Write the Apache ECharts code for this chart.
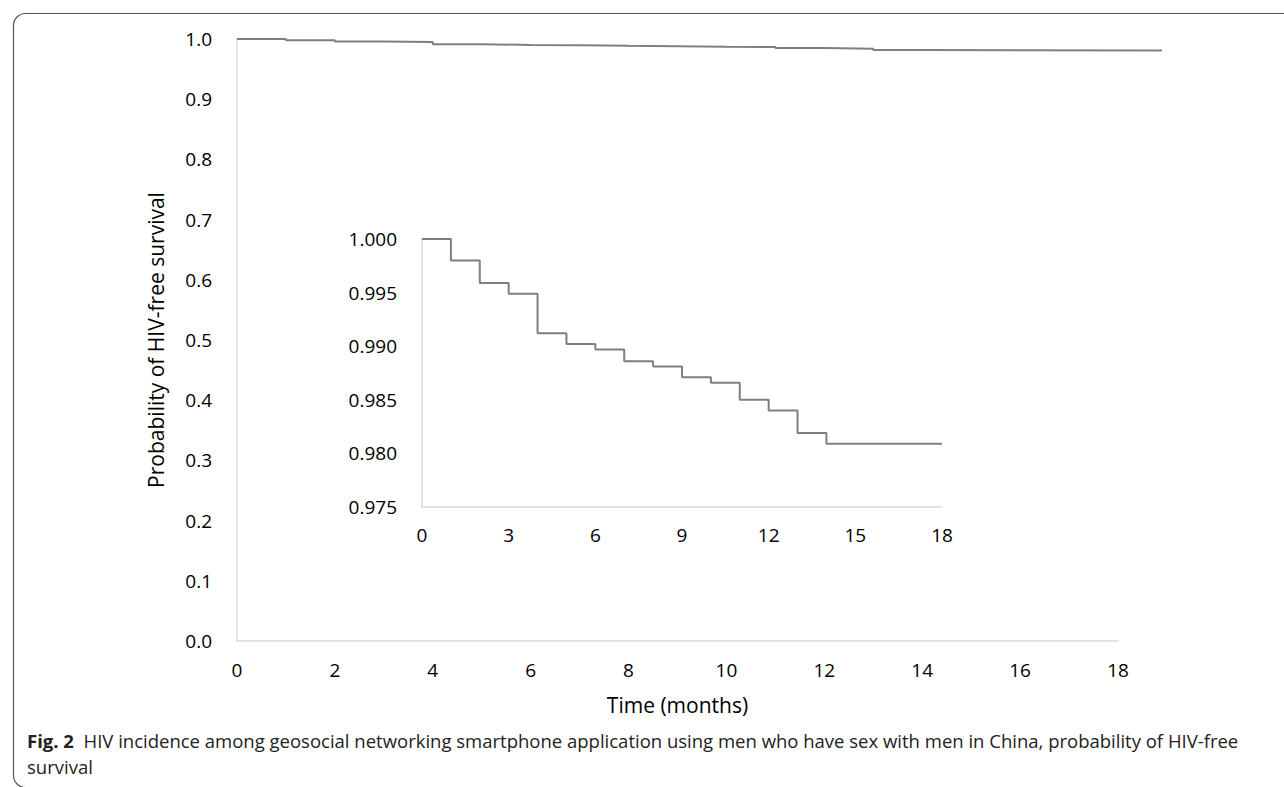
<!DOCTYPE html>
<html>
<head>
<meta charset="utf-8">
<script src="https://cdn.jsdelivr.net/npm/echarts@6/dist/echarts.min.js"></script>
<style>
  html, body { margin: 0; padding: 0; background: #fff; }
  #chart { width: 1284px; height: 787px; }
</style>
</head>
<body>
<div id="chart"></div>
<script>
(function() {
  // Kaplan-Meier steps (month of event, survival after it)
  var months = [0, 1, 2, 3, 4, 5, 6, 7, 8, 9, 10, 11, 12, 13, 14, 18];
  var survival = [1.000, 0.998, 0.9959, 0.9949, 0.9912, 0.9902, 0.9897, 0.9886, 0.9881, 0.9871, 0.9866, 0.9850, 0.9840, 0.9819, 0.9809, 0.9809];
  var mainEnd = 18.9;   // last follow-up shown in the full-scale plot
  var axisMax = 18;

  var mainTicks = ['0.0', '0.1', '0.2', '0.3', '0.4', '0.5', '0.6', '0.7', '0.8', '0.9', '1.0'];
  var insetTicks = ['0.975', '0.980', '0.985', '0.990', '0.995', '1.000'];

  var insetData = months.map(function(m, i) { return [m, survival[i]]; });
  var mainData = insetData.slice(0, insetData.length - 1).concat([[mainEnd, survival[survival.length - 1]]]);

  var font = '"Open Sans", "Liberation Sans", sans-serif';
  var axisGrey = '#d9d9d9';
  var lineGrey = '#7f7f7f';
  var ink = '#000';

  // the curve runs a bit past the labelled axis, so it gets its own (wider) grid on the same scale
  var plotW = 881;
  var curveW = plotW * mainEnd / axisMax;

  var chart = echarts.init(document.getElementById('chart'), null, { renderer: 'svg' });
  chart.setOption({
    animation: false,
    textStyle: { fontFamily: font },
    grid: [
      { left: 237, top: 39, width: curveW, height: 602 },
      { left: 422, top: 239, width: 520, height: 268 },
      { left: 237, top: 39, width: plotW, height: 602 }
    ],
    xAxis: [
      { gridIndex: 0, type: 'value', min: 0, max: mainEnd, show: false },
      {
        gridIndex: 1, type: 'value', min: 0, max: 18, interval: 3,
        axisLine: { lineStyle: { color: axisGrey, width: 1.5 } },
        axisTick: { show: false },
        splitLine: { show: false },
        axisLabel: { color: ink, fontSize: 19, margin: 18, fontFamily: font }
      },
      {
        gridIndex: 2, type: 'value', min: 0, max: axisMax, interval: 2,
        name: 'Time (months)', nameLocation: 'middle', nameGap: 53,
        nameTextStyle: { color: ink, fontSize: 21, fontFamily: font },
        axisLine: { lineStyle: { color: axisGrey, width: 1.5 } },
        axisTick: { show: false },
        splitLine: { show: false },
        axisLabel: { color: ink, fontSize: 19, margin: 19, fontFamily: font }
      }
    ],
    yAxis: [
      {
        gridIndex: 0, type: 'value', min: 0, max: 1, interval: 0.1,
        name: 'Probability of HIV-free survival', nameLocation: 'middle', nameGap: 71,
        nameTextStyle: { color: ink, fontSize: 21, fontFamily: font },
        axisLine: { show: true, lineStyle: { color: axisGrey, width: 1.5 } },
        axisTick: { show: false },
        splitLine: { show: false },
        axisLabel: {
          color: ink, fontSize: 19, margin: 25, fontFamily: font,
          formatter: function(v) { return mainTicks[Math.round(v * 10)]; }
        }
      },
      {
        gridIndex: 1, type: 'value', min: 0.975, max: 1.0, interval: 0.005,
        axisLine: { show: true, lineStyle: { color: axisGrey, width: 1.5 } },
        axisTick: { show: false },
        splitLine: { show: false },
        axisLabel: {
          color: ink, fontSize: 19, margin: 25, fontFamily: font,
          formatter: function(v) { return insetTicks[Math.round((v - 0.975) / 0.005)]; }
        }
      },
      { gridIndex: 2, type: 'value', min: 0, max: 1, show: false }
    ],
    series: [
      {
        type: 'line', xAxisIndex: 0, yAxisIndex: 0,
        data: mainData, step: 'end', symbol: 'none',
        lineStyle: { color: lineGrey, width: 2 }
      },
      {
        type: 'line', xAxisIndex: 1, yAxisIndex: 1,
        data: insetData, step: 'end', symbol: 'none',
        lineStyle: { color: lineGrey, width: 2 }
      }
    ],
    graphic: [
      {
        type: 'rect', left: 11, top: 11, silent: true,
        shape: { width: 1300, height: 774, r: 12 },
        style: { fill: 'none', stroke: '#555', lineWidth: 1.2 }
      },
      {
        type: 'text', left: 27, top: 731,
        style: {
          text: '{b|Fig. 2}  HIV incidence among geosocial networking smartphone application using men who have sex with men in China, probability of HIV-free',
          font: '18.5px ' + font, fill: '#222',
          rich: { b: { fontWeight: 'bold', fontSize: 18.5, fontFamily: font, fill: '#222' } }
        }
      },
      {
        type: 'text', left: 27, top: 757,
        style: { text: 'survival', font: '18.5px ' + font, fill: '#222' }
      }
    ]
  });
  window.addEventListener('resize', function() { chart.resize(); });
})();
</script>
</body>
</html>
